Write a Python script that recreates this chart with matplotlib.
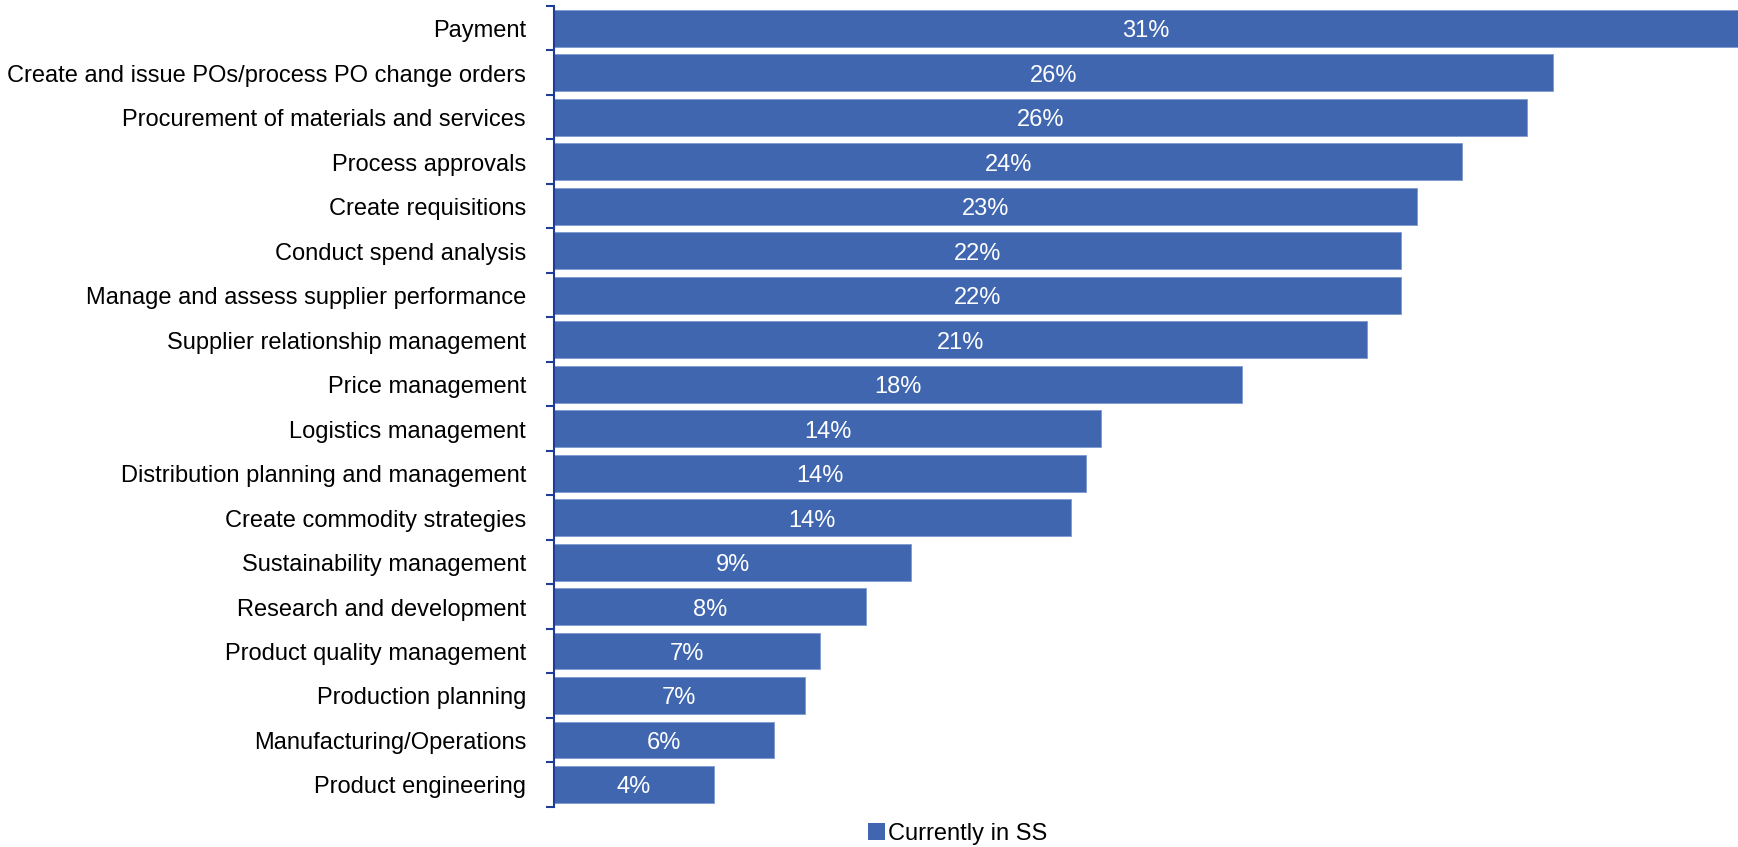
import matplotlib
matplotlib.use("Agg")
import matplotlib.pyplot as plt
from matplotlib.patches import Patch
from matplotlib.transforms import offset_copy

plt.rcParams["font.family"] = ["Liberation Sans", "DejaVu Sans"]

categories = [
    "Payment",
    "Create and issue POs/process PO change orders",
    "Procurement of materials and services",
    "Process approvals",
    "Create requisitions",
    "Conduct spend analysis",
    "Manage and assess supplier performance",
    "Supplier relationship management",
    "Price management",
    "Logistics management",
    "Distribution planning and management",
    "Create commodity strategies",
    "Sustainability management",
    "Research and development",
    "Product quality management",
    "Production planning",
    "Manufacturing/Operations",
    "Product engineering",
]
values = [31.3, 26.3, 25.6, 23.9, 22.7, 22.3, 22.3, 21.4, 18.1, 14.4,
          14.0, 13.6, 9.4, 8.2, 7.0, 6.6, 5.8, 4.2]
series_name = "Currently in SS"

bar_color = "#4066B0"
axis_color = "#1F3C99"
fs = 17

fig = plt.figure(figsize=(17.38, 8.47), dpi=100)
ax = fig.add_axes([554 / 1738, 1 - 806.7 / 847, 1 - 554 / 1738, (806.7 - 6) / 847])

n = len(categories)
ypos = list(range(n))
ax.barh(ypos, values, height=0.83, color=bar_color, edgecolor="#7F9AD0",
        linewidth=0.6, zorder=2)

ax.set_xlim(0, 31.16)
ax.set_ylim(n - 0.5, -0.5)

# labels centred on the visible part of each bar
xmax = ax.get_xlim()[1]
val_tr = offset_copy(ax.transData, fig=fig, x=0, y=-3, units="dots")
for y, v in zip(ypos, values):
    ax.text(min(v, xmax) / 2, y, f"{v:.0f}%", transform=val_tr, ha="center",
            va="center", color="white", fontsize=fs, zorder=3)

# category names as plain text, tick marks between categories
ax.set_yticks([y + 0.5 for y in [-1] + ypos])
ax.set_yticklabels([])
ax.tick_params(axis="y", direction="out", length=6, width=1.5, color=axis_color)
name_tr = offset_copy(ax.get_yaxis_transform(), fig=fig, x=-28, y=-3, units="dots")
for y, name in zip(ypos, categories):
    ax.text(0, y, name, transform=name_tr, ha="right", va="center",
            fontsize=fs, color="black")

ax.set_xticks([])
for s in ("top", "right", "bottom"):
    ax.spines[s].set_visible(False)
ax.spines["left"].set_color(axis_color)
ax.spines["left"].set_linewidth(1.5)

fig.legend(handles=[Patch(facecolor=bar_color, label=series_name)],
           loc="center", bbox_to_anchor=(958 / 1738, 1 - 834 / 847),
           frameon=False, fontsize=17, handlelength=0.7, handleheight=0.7,
           handletextpad=0.15, borderpad=0)

fig.savefig("out.png", dpi=100)
